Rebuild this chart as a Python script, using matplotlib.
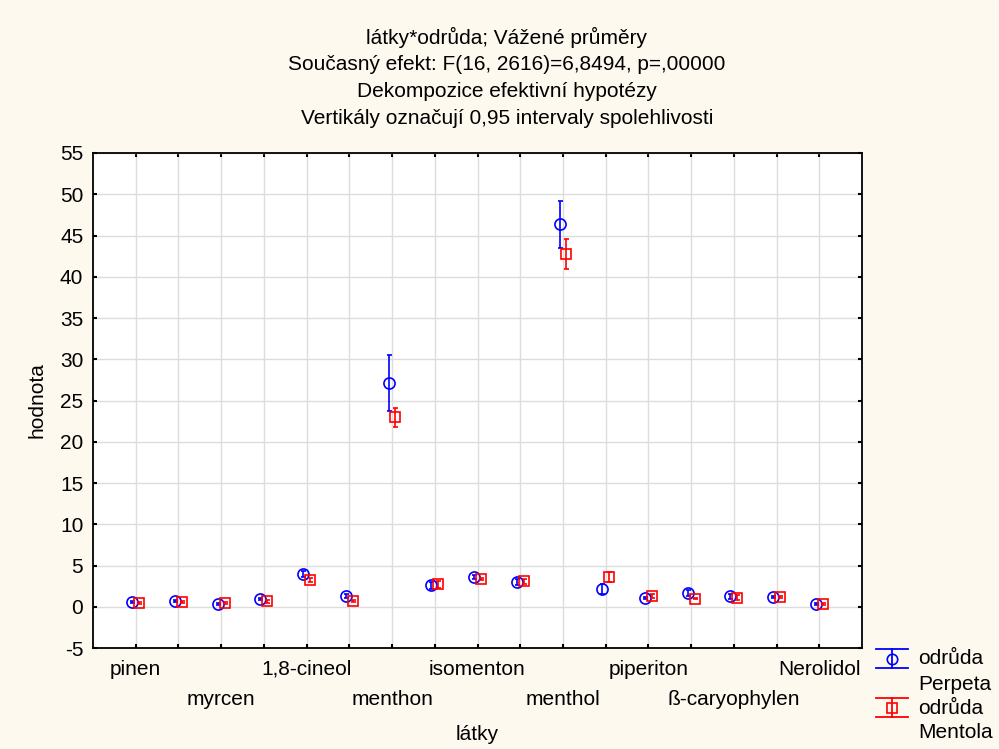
import numpy as np
import matplotlib
matplotlib.use('Agg')
import matplotlib.pyplot as plt
from matplotlib.lines import Line2D

plt.rcParams['font.family'] = ['Liberation Sans', 'DejaVu Sans']

# data
latky = ['pinen', '', 'myrcen', '', '1,8-cineol', '', 'menthon', '', 'isomenton', '',
         'menthol', '', 'piperiton', '', 'ß-caryophylen', '', 'Nerolidol']
perpeta = [0.55, 0.73, 0.37, 0.93, 3.94, 1.3, 27.1, 2.6, 3.65, 3.03,
           46.35, 2.18, 1.05, 1.65, 1.25, 1.21, 0.32]
perpeta_ci = [0.1, 0.1, 0.1, 0.15, 0.35, 0.25, 3.4, 0.4, 0.25, 0.35,
              2.85, 0.6, 0.15, 0.4, 0.3, 0.15, 0.1]
mentola = [0.44, 0.56, 0.44, 0.65, 3.25, 0.69, 22.95, 2.72, 3.36, 3.1,
           42.8, 3.65, 1.29, 1.0, 1.09, 1.17, 0.36]
mentola_ci = [0.1, 0.1, 0.1, 0.15, 0.2, 0.15, 1.2, 0.45, 0.15, 0.3,
              1.8, 0.6, 0.25, 0.1, 0.3, 0.1, 0.1]
titulek = ['látky*odrůda; Vážené průměry',
           'Současný efekt: F(16, 2616)=6,8494, p=,00000',
           'Dekompozice efektivní hypotézy',
           'Vertikály označují 0,95 intervaly spolehlivosti']
y_ticks = list(range(-5, 56, 5))

bg = '#fdf9ef'
cor_grid = '#dcdcdc'
fs = 15
W, H = 999, 749

def px(x, y):                       # pixely -> souradnice figury
    return x / W, 1 - y / H

fig = plt.figure(figsize=(W / 100, H / 100), dpi=100, facecolor=bg)
ax = fig.add_axes([93 / W, 1 - 648 / H, (862 - 93) / W, (648 - 153) / H])
ax.set_facecolor('white')

x = np.arange(len(latky))
off = 0.08
ax.errorbar(x - off, perpeta, yerr=perpeta_ci, fmt='o', color='blue', mfc='none',
            mec='blue', ms=8, mew=1.2, elinewidth=1.2, capsize=1.8, capthick=1.2, zorder=4)
ax.errorbar(x + off, mentola, yerr=mentola_ci, fmt='s', color='red', mfc='none',
            mec='red', ms=7.5, mew=1.2, elinewidth=1.2, capsize=1.8, capthick=1.2, zorder=5)

ax.set_xlim(-1, len(latky))
ax.set_ylim(-5, 55)
ax.set_yticks(y_ticks)
ax.set_yticklabels([str(v) for v in y_ticks], fontsize=fs)

# popisky stridave nahore / dole
ax.xaxis.remove_overlapping_locs = False
ax.set_xticks(x)
ax.set_xticklabels([l if i % 4 == 0 else '' for i, l in enumerate(latky)], fontsize=fs)
dole = [i for i in range(len(latky)) if i % 4 == 2]
ax.set_xticks(dole, minor=True)
ax.set_xticklabels([latky[i] for i in dole], minor=True, fontsize=fs)

ax.grid(True, color=cor_grid, linewidth=1.0, zorder=0)
ax.set_axisbelow(True)
ax.tick_params(which='major', direction='in', length=3, width=1.5, top=True, right=True, pad=7)
ax.tick_params(axis='x', which='major', pad=8.5)
ax.tick_params(axis='x', which='minor', length=0, pad=30, labelsize=fs)
for s in ax.spines.values():
    s.set_linewidth(1.3)

ax.set_xlabel('látky', fontsize=fs, labelpad=12)
ax.set_ylabel('hodnota', fontsize=fs, labelpad=10)

for i, t in enumerate(titulek):
    fig.text(507 / W, 1 - (37 + i * 27.3) / H, t, ha='center', va='center', fontsize=fs)

# legenda (symbol jako ve Statistice)
def symbol(y0, y1, color, marker, ms):
    xa, xb = 876, 908
    for yy in (y0, y1):
        fig.add_artist(Line2D([px(xa, yy)[0], px(xb, yy)[0]], [px(xa, yy)[1]] * 2,
                              color=color, lw=1.3))
    xm = (xa + xb) / 2
    fig.add_artist(Line2D([px(xm, y0)[0]] * 2, [px(xm, y0)[1], px(xm, y1)[1]],
                          color=color, lw=1.3))
    fig.add_artist(Line2D([px(xm, 0)[0]], [px(0, (y0 + y1) / 2)[1]], marker=marker,
                          ms=ms, mfc='none', mec=color, mew=1.2, color=color))

symbol(649, 668, 'blue', 'o', 7.5)
symbol(698, 717, 'red', 's', 7)
for txt, yy in [('odrůda', 659), ('Perpeta', 684), ('odrůda', 708), ('Mentola', 733)]:
    fig.text(*px(918, yy), txt, ha='left', va='center', fontsize=fs)

fig.savefig('out.png', dpi=100, facecolor=bg)
